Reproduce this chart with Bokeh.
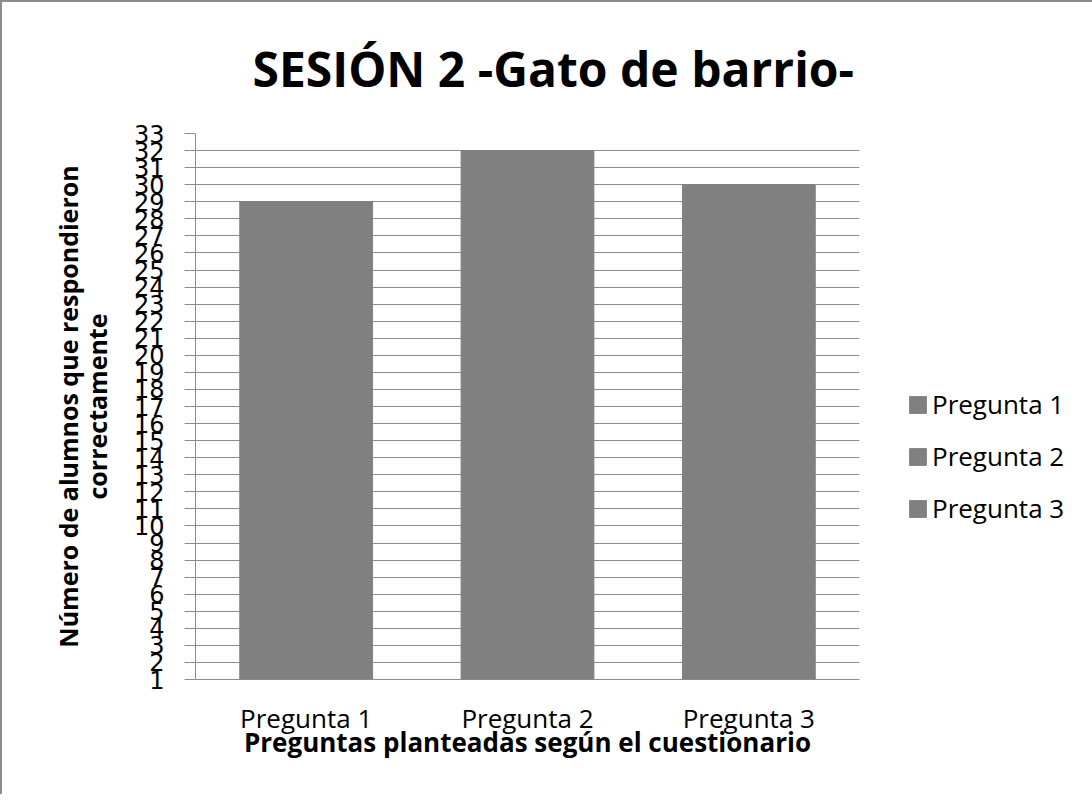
from bokeh.plotting import figure
from bokeh.models import ColumnDataSource, FixedTicker, FactorRange, Range1d, Legend, LegendItem
from bokeh.embed import file_html
from bokeh.resources import INLINE

title_text = "SESIÓN 2 -Gato de barrio-"
categories = ["Pregunta 1", "Pregunta 2", "Pregunta 3"]
values = [29, 32, 30]
y_ticks = list(range(1, 34))
y_label = "Número de alumnos que respondieron\ncorrectamente"
x_label = "Preguntas planteadas según el cuestionario"

BAR = "#808080"
GRID = "#8c8c8c"
FONT = "Open Sans"

source = ColumnDataSource(dict(cat=categories, val=values))

p = figure(
    x_range=FactorRange(*categories, range_padding=0),
    y_range=Range1d(1, 33),
    frame_width=664, frame_height=546,
    output_backend="svg", toolbar_location=None,
    min_border_left=193, min_border_right=219,
    min_border_top=131, min_border_bottom=115,
)

r = p.vbar(x="cat", top="val", bottom=1, width=0.6, source=source,
           fill_color=BAR, line_color=BAR)

p.title.text = title_text
p.title.text_font = FONT
p.title.text_font_size = "48px"
p.title.text_font_style = "bold"
p.title.align = "left"
p.title.offset = 57
p.title.vertical_align = "middle"
p.title.text_color = "black"
p.title.standoff = 63

p.outline_line_color = None
p.xgrid.grid_line_color = None
p.ygrid.grid_line_color = GRID
p.ygrid.grid_line_width = 1

p.yaxis.ticker = FixedTicker(ticks=y_ticks)
p.yaxis.minor_tick_line_color = None
p.yaxis.major_tick_out = 11
p.yaxis.major_tick_in = 0
p.yaxis.major_tick_line_color = GRID
p.yaxis.axis_line_color = GRID
p.yaxis.major_label_text_font = "DejaVu Sans"
p.yaxis.major_label_text_font_size = "24px"
p.yaxis.major_label_text_color = "black"
p.yaxis.major_label_standoff = 20
p.yaxis.axis_label = y_label
p.yaxis.axis_label_text_font = FONT
p.yaxis.axis_label_text_font_size = "25px"
p.yaxis.axis_label_text_font_style = "bold"
p.yaxis.axis_label_text_color = "black"
p.yaxis.axis_label_text_line_height = 0.85
p.yaxis.axis_label_standoff = 17

p.xaxis.axis_line_color = GRID
p.xaxis.major_tick_line_color = None
p.xaxis.minor_tick_line_color = None
p.xaxis.major_label_text_font = FONT
p.xaxis.major_label_text_font_size = "26px"
p.xaxis.major_label_text_color = "black"
p.xaxis.major_label_standoff = 14
p.xaxis.axis_label = x_label
p.xaxis.axis_label_text_font = FONT
p.xaxis.axis_label_text_font_size = "26px"
p.xaxis.axis_label_text_font_style = "bold"
p.xaxis.axis_label_text_color = "black"
p.xaxis.axis_label_standoff = -15

leg = Legend(items=[LegendItem(label=c, renderers=[r], index=i)
                    for i, c in enumerate(categories)])
leg.location = (48, 153)
leg.border_line_color = None
leg.background_fill_alpha = 0
leg.padding = 0
leg.margin = 0
leg.glyph_width = 21
leg.glyph_height = 21
leg.label_standoff = 4
leg.label_text_font = FONT
leg.label_text_font_size = "26px"
leg.label_text_color = "black"
leg.spacing = 16
p.add_layout(leg, "right")

p.styles = {"border-left": "2px solid #8c8c8c", "border-top": "2px solid #8c8c8c"}

open("out.html", "w").write(file_html(p, INLINE))
